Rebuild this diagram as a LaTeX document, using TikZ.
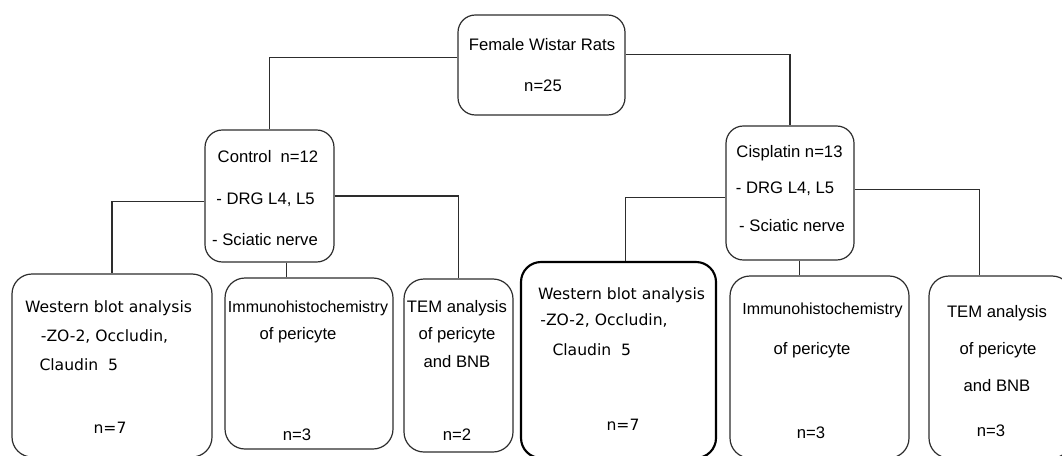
\documentclass[tikz,border=0pt]{standalone}
\usepackage{fontspec}
\setmainfont{Liberation Sans}
\newfontfamily\wbfont{DejaVu Sans}

\tikzset{every picture/.style={line width=0.75pt}}
\tikzset{
  rbox/.style={draw={rgb, 255:red, 45; green, 45; blue, 45 }, line width=0.9pt, rounded corners=13pt, inner sep=0pt},
  box/.style 2 args={minimum width=#1*0.75pt, minimum height=#2*0.75pt},
  conn/.style={draw={rgb, 255:red, 45; green, 45; blue, 45 }, line width=0.9pt},
  txt/.style={font=\fontsize{12.5}{15}\selectfont, inner sep=0pt},
  wbtxt/.style={font=\wbfont\fontsize{11.7}{14}\selectfont, inner sep=0pt}
}

\begin{document}
\begin{tikzpicture}[x=0.75pt,y=0.75pt,yscale=-1,xscale=1]
	\path [use as bounding box, clip] (0,0) rectangle (1062,456);

	%Rounded Rect [rats]
	\node [rbox, box={167}{100}] (rats) at (541.5,65) {};
	%Rounded Rect [control]
	\node [rbox, box={129}{132}] (ctrl) at (269.5,196) {};
	%Rounded Rect [cisplatin]
	\node [rbox, box={128}{134}] (cis) at (790,193) {};
	%Rounded Rect [control analyses]
	\node [rbox, rounded corners=15pt, box={200}{183}] (wb1) at (112,365.5) {};
	\node [rbox, rounded corners=15pt, box={168}{171}] (imm1) at (309,363.5) {};
	\node [rbox, rounded corners=15pt, box={109}{173}] (tem1) at (458.5,365.5) {};
	%Rounded Rect [cisplatin analyses]
	\node [rbox, rounded corners=15pt, line width=1.6pt, draw=black, box={195}{196}] (wb2) at (618.5,360) {};
	\node [rbox, rounded corners=15pt, box={179}{182}] (imm2) at (819.5,367) {};
	\node [rbox, rounded corners=15pt, box={143}{182}] (tem2) at (1000.5,367) {};

	%Straight Lines
	\draw [conn] (rats.175) -| (ctrl.north);
	\draw [conn] (rats.7) -| (cis.north);
	\draw [conn] (ctrl.185) -| (wb1.north);
	\draw [conn] (ctrl.-76) -- (ctrl.-76 |- imm1.north);
	\draw [conn] (ctrl.east) -| (tem1.north);
	\draw [conn] (cis.184) -| (wb2.86);
	\draw [conn] (cis.-82) -- (cis.-82 |- imm2.north);
	\draw [conn] (cis.3) -| (tem2.103);

	% Text Node
	\node [txt] (ratsA) at (542,45) {Female Wistar Rats};
	\node [txt] (ratsB) at (543,86) {n=25};
	% Text Node
	\node [txt] (ctrlA) at (268,157) {Control\ \ n=12};
	\node [txt] (ctrlB) at (265.5,200) {- DRG L4, L5};
	\node [txt] (ctrlC) at (265,240) {- Sciatic nerve};
	% Text Node
	\node [txt] (cisA) at (789.5,153) {Cisplatin n=13};
	\node [txt] (cisB) at (785,189) {- DRG L4, L5};
	\node [txt] (cisC) at (792,226) {- Sciatic nerve};
	% Text Node
	\node [wbtxt] (wb1A) at (108.5,308) {Western blot analysis};
	\node [wbtxt] (wb1B) at (104.5,336) {-ZO-2, Occludin,};
	\node [wbtxt, anchor=west] (wb1C) at (39,365) {Claudin\ \ 5};
	\node [wbtxt] (wb1D) at (110,428) {n=7};
	% Text Node
	\node [txt, font=\fontsize{12}{14}\selectfont] (imm1A) at (308,308) {Immunohistochemistry};
	\node [txt] (imm1B) at (298,335) {of pericyte};
	\node [txt] (imm1C) at (297,435) {n=3};
	% Text Node
	\node [txt] (tem1A) at (457,308) {TEM analysis};
	\node [txt] (tem1B) at (457,335) {of pericyte};
	\node [txt] (tem1C) at (457,362) {and BNB};
	\node [txt] (tem1D) at (457,435) {n=2};
	% Text Node
	\node [wbtxt] (wb2A) at (621.5,295) {Western blot analysis};
	\node [wbtxt] (wb2B) at (604,320) {-ZO-2, Occludin,};
	\node [wbtxt, anchor=west] (wb2C) at (552,350) {Claudin\ \ 5};
	\node [wbtxt] (wb2D) at (623,425) {n=7};
	% Text Node
	\node [txt, font=\fontsize{12}{14}\selectfont] (imm2A) at (822.5,310) {Immunohistochemistry};
	\node [txt] (imm2B) at (812,350) {of pericyte};
	\node [txt] (imm2C) at (811,433) {n=3};
	% Text Node
	\node [txt] (tem2A) at (997,313) {TEM analysis};
	\node [txt] (tem2B) at (998,350) {of pericyte};
	\node [txt] (tem2C) at (997,386) {and BNB};
	\node [txt] (tem2D) at (991,431) {n=3};

\end{tikzpicture}
\end{document}
